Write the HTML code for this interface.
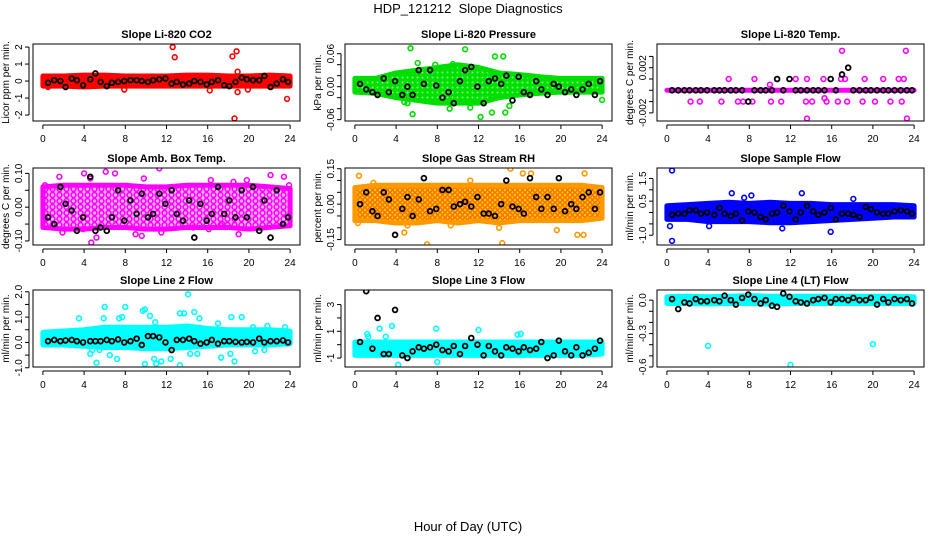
<!DOCTYPE html>
<html><head><meta charset="utf-8"><style>
body{margin:0;background:#fff}
svg{display:block;font-family:"Liberation Sans",sans-serif}
</style></head><body>
<svg id="c" width="936" height="540" viewBox="0 0 936 540">
<defs>
<pattern id="patPink" width="7" height="6" patternUnits="userSpaceOnUse">
<rect width="7" height="6" fill="#ffb0ff"/>
<circle cx="3.5" cy="3" r="2.4" fill="none" stroke="#ff00ff" stroke-width="1.6"/>
</pattern>
<pattern id="patOrange" width="5" height="5" patternUnits="userSpaceOnUse">
<rect width="5" height="5" fill="#ffd000"/>
<circle cx="2.5" cy="2.5" r="1.8" fill="none" stroke="#ff5a00" stroke-width="1.2"/>
</pattern>
<pattern id="patGreen" width="5" height="5" patternUnits="userSpaceOnUse">
<rect width="5" height="5" fill="#00e000"/>
<circle cx="2.5" cy="2.5" r="1" fill="#80ff80"/>
</pattern>
</defs>
<text x="468" y="13" font-size="13" text-anchor="middle" xml:space="preserve">HDP_121212  Slope Diagnostics</text>
<text x="468" y="531" font-size="13" text-anchor="middle">Hour of Day (UTC)</text>
</svg>
<script>
const blackHours=[0.5,1.1,1.7,2.2,2.8,3.3,3.9,4.6,5.1,5.6,6.2,6.7,7.3,7.9,8.5,9.1,9.6,10.2,10.7,11.3,11.9,12.5,13.0,13.6,14.2,14.7,15.3,15.9,16.4,17.0,17.6,18.1,18.7,19.3,19.8,20.4,21.0,21.5,22.1,22.7,23.3,23.8];
const bandHours=[0,2,4,6,8,10,12,14,16,18,20,22,24];
const xTicks=[0,4,8,12,16,20,24];
const titles=["Slope Li-820 CO2","Slope Li-820 Pressure","Slope Li-820 Temp.","Slope Amb. Box Temp.","Slope Gas Stream RH","Slope Sample Flow","Slope Line 2 Flow","Slope Line 3 Flow","Slope Line 4 (LT) Flow"];
const yTitles=["Licor ppm per min.","kPa per min.","degrees C per min.","degrees C per min.","percent per min.","ml/min per min.","ml/min per min.","ml/min per min.","ml/min per min."];
const yLims=[[-2.35,2.18],[-0.0624,0.0776],[-0.00272,0.0041],[-0.112,0.116],[-0.173,0.153],[-1.43,1.96],[-0.97,2.07],[-1.67,4.09],[-0.6,0.091]];
const yTicks=[[-2,-1,0,1,2],[-0.06,-0.04,-0.02,0,0.02,0.04,0.06],[-0.002,-0.001,0,0.001,0.002,0.003],[-0.1,-0.05,0,0.05,0.1],[-0.15,-0.1,-0.05,0,0.05,0.1,0.15],[-1,-0.5,0,0.5,1,1.5],[-1,-0.5,0,0.5,1,1.5,2],[-1,0,1,2,3],[-0.6,-0.5,-0.4,-0.3,-0.2,-0.1,0]];
const yTickLabels=[["-2","-1","0","1","2"],["-0.06","","","0.00","","","0.06"],["-0.002","","","","0.002",""],["-0.10","","0.00","","0.10"],["-0.15","","","0.00","","","0.15"],["-1.0","","","0.5","","1.5"],["-1.0","","0.0","","1.0","","2.0"],["-1","","1","","3"],["-0.6","","","-0.3","","","0.0"]];
const colors=["#ff0000","#00dd00","#ff00ff","#ff00ff","#ff9900","#0000ff","#00ffff","#00ffff","#00ffff"];
const bandFills=["#ff0000","url(#patGreen)","#ff00ff","url(#patPink)","url(#patOrange)","#0000ff","#00ffff","#00ffff","#00ffff"];
const bandLo=[
[-0.3,-0.3,-0.35,-0.3,-0.3,-0.3,-0.3,-0.3,-0.3,-0.3,-0.3,-0.3,-0.3],
[-0.01,-0.012,-0.02,-0.025,-0.03,-0.03,-0.03,-0.02,-0.015,-0.012,-0.01,-0.01,-0.01],
[0,0,0,0,0,0,0,0,0,0,0,0,0],
[-0.06,-0.065,-0.065,-0.06,-0.06,-0.065,-0.065,-0.06,-0.06,-0.06,-0.065,-0.06,-0.055],
[-0.07,-0.07,-0.08,-0.08,-0.07,-0.08,-0.07,-0.08,-0.07,-0.07,-0.07,-0.07,-0.06],
[-0.3,-0.3,-0.4,-0.4,-0.4,-0.45,-0.45,-0.4,-0.35,-0.3,-0.25,-0.2,-0.2],
[-0.1,-0.1,-0.15,-0.2,-0.2,-0.25,-0.25,-0.2,-0.15,-0.1,-0.1,-0.1,-0.05],
[-0.8,-0.8,-0.8,-0.8,-0.8,-0.8,-0.8,-0.8,-0.8,-0.8,-0.8,-0.8,-0.7],
[-0.03,-0.03,-0.035,-0.03,-0.03,-0.035,-0.03,-0.03,-0.03,-0.03,-0.03,-0.03,-0.03]];
const bandHi=[
[0.3,0.3,0.35,0.35,0.3,0.3,0.3,0.35,0.35,0.3,0.3,0.35,0.3],
[0.015,0.015,0.025,0.03,0.035,0.04,0.035,0.025,0.022,0.018,0.015,0.015,0.015],
[0,0,0,0,0,0,0,0,0,0,0,0,0],
[0.06,0.065,0.065,0.065,0.065,0.06,0.06,0.065,0.065,0.065,0.065,0.06,0.055],
[0.07,0.08,0.08,0.08,0.08,0.08,0.08,0.08,0.08,0.08,0.08,0.08,0.07],
[0.3,0.35,0.4,0.45,0.4,0.45,0.4,0.4,0.35,0.35,0.35,0.35,0.3],
[0.4,0.45,0.5,0.6,0.6,0.6,0.6,0.65,0.55,0.5,0.5,0.5,0.45],
[0.2,0.2,0.2,0.2,0.2,0.2,0.2,0.2,0.2,0.2,0.2,0.2,0.2],
[0.03,0.035,0.03,0.035,0.04,0.035,0.035,0.035,0.035,0.035,0.035,0.035,0.03]];
const outX=[
[12.6,12.8,18.4,18.8,18.6,18.9,18.9,23.7,16.2,19.9,7.9,0.5],
[5.4,10.7,13.6,14.4,5.6,9.2,12.2,13.3,14.6,4.8,5.1,7.8,24,11.2,15,6.1,9.5],
[17.0,23.2,13.6,23.3,10.0,15.3,6.0,8.5,12.5,13.6,15.2,16.9,17.3,19.2,21.0,22.5,23.0,2.3,3.2,5.3,6.9,7.4,8.3,10.1,11.1,13.5,14.1,15.5,16.6,17.5,19.0,20.2,21.7,22.8],
[4.0,4.6,6.1,7.0,1.6,9.8,11.3,16.3,18.5,19.8,22.1,23.4,23.9,4.7,5.2,9.0,9.6,11.5,1.9,16.1,19.0,0.1,0.2,3.9,14.6,17.4],
[0.4,0.3,4.8,5.1,7.0,14.3,14.0,15.1,16.3,17.1,19.6,21.6,22.2,22.3,9.3,11.2,1.8],
[0.5,0.5,0.3,6.3,13.1,15.9,7.5,8.2,4.1,11.2,18.1],
[6.0,8.0,9.7,9.9,14.1,14.7,13.3,13.7,5.9,3.5,7.4,7.7,10.4,15.2,18.3,19.3,5.2,5.5,6.5,7.2,9.9,10.8,11.0,11.5,12.4,13.3,14.3,15.0,17.3,18.6,18.2,20.6,21.5,4.6,4.8,10.9,17.0,20.4,21.8,23.5],
[2.4,3.6,7.9,12.0,4.2,8.0,15.8,16.1,1.2,1.3,3.0],
[4.0,12.0,20.0]];
const outY=[
[2.0,1.4,1.45,1.75,-2.2,0.55,-0.65,-1.05,-0.55,-0.5,-0.5,-0.35],
[0.07,0.068,0.055,0.055,-0.05,-0.04,-0.055,-0.047,-0.047,-0.028,-0.03,0.04,-0.024,-0.038,-0.035,0.043,0.041],
[0.0035,0.0035,-0.0025,-0.0025,0.0005,-0.0007,0.001,0.001,0.001,0.001,0.001,0.001,0.001,0.001,0.001,0.001,0.001,-0.001,-0.001,-0.001,-0.001,-0.001,-0.001,-0.001,-0.001,-0.001,-0.001,-0.001,-0.001,-0.001,-0.001,-0.001,-0.001,-0.001],
[0.1,0.085,0.105,0.1,0.09,0.085,0.115,0.08,0.075,0.08,0.095,0.09,0.065,-0.105,-0.09,-0.08,-0.085,-0.075,-0.075,-0.065,-0.08,-0.04,0.065,-0.065,-0.06,-0.05],
[0.12,-0.08,-0.12,-0.09,-0.17,-0.165,-0.1,0.15,0.13,0.13,-0.11,-0.13,-0.13,0.13,-0.09,0.1,0.09],
[1.85,-1.25,-0.6,0.85,0.85,-0.85,0.65,0.75,-0.6,-0.7,0.6],
[1.4,1.4,1.25,1.3,1.9,1.2,1.15,1.15,0.95,0.95,0.95,1.0,1.05,0.95,1.0,1.0,-0.8,-0.3,-0.5,-0.65,-0.85,-0.65,-0.85,-0.75,-0.65,-0.9,-0.45,-0.45,-0.6,-0.75,-0.45,-0.35,-0.3,-0.45,-0.3,0.8,0.75,0.6,0.65,0.6],
[1.2,1.4,1.2,1.1,-1.5,-1.3,0.75,0.8,0.8,0.6,0.6],
[-0.41,-0.58,-0.395]];
const blackY=[
[-0.1,0.05,0,-0.35,0.15,0.05,-0.25,0.1,0.45,-0.05,-0.3,-0.1,-0.05,0,0.05,0.05,0,-0.05,0.05,0.1,0.15,-0.15,-0.05,-0.2,-0.15,0,-0.05,-0.2,-0.05,0.05,-0.25,-0.3,-0.05,0.2,0.1,0.05,0.05,0.3,-0.35,-0.15,0.1,-0.05],
[0.005,-0.005,-0.01,-0.015,0.015,-0.01,0.01,-0.015,0.0,-0.015,0.03,0.005,0.03,0.002,-0.02,-0.01,-0.03,0.01,0.03,0.036,0.0,-0.03,0.01,0.015,0.005,0.02,-0.025,0.018,-0.01,-0.015,0.01,-0.005,-0.015,0.005,0.0,-0.01,-0.005,-0.015,-0.005,0.005,-0.015,0.01],
[0,0,0,0,0,0,0,0,0,0,0,0,0,-0.001,0,0,0,0,0.001,0,0.001,0,0,0,0,0,0,0.001,0,0.0014,0.002,0,0,0,0,0,0,0,0,0,0,0],
[-0.03,-0.05,0.06,0.01,-0.01,-0.07,-0.03,0.09,-0.07,-0.06,-0.07,-0.03,0.05,-0.04,0.02,-0.02,0.04,-0.03,-0.02,0.04,0.01,0.05,-0.02,-0.04,0.02,-0.09,0.01,-0.04,-0.02,0.06,-0.02,0.02,-0.03,0.05,-0.03,0.06,-0.07,0.02,-0.09,0.05,-0.05,-0.03],
[0.0,0.05,-0.03,-0.05,0.05,0.02,-0.13,-0.02,0.03,-0.05,0.02,0.11,-0.03,-0.02,0.06,0.06,-0.01,0.0,0.01,-0.01,0.03,-0.04,-0.04,-0.05,0.0,0.1,-0.01,-0.02,-0.04,0.11,0.03,-0.02,0.03,-0.02,0.11,-0.03,0.0,-0.02,0.03,0.05,-0.02,0.05],
[-0.1,-0.05,-0.05,0.1,0.1,-0.05,0.0,-0.1,0.2,-0.05,-0.15,-0.05,-0.35,0.05,0.0,-0.2,-0.3,-0.05,0.0,0.3,0.05,-0.3,0.0,0.3,0.05,-0.1,0.0,0.2,-0.3,-0.05,-0.05,-0.1,-0.2,0.25,0.15,0.0,-0.05,-0.05,0.05,0.1,0.05,-0.05],
[0.05,0.1,0.05,0.08,0.1,0.05,0.0,0.05,0.05,0.05,0.1,0.05,0.12,0.0,0.05,0.15,-0.1,0.25,0.25,0.2,0.0,-0.3,0.1,0.1,0.15,0.05,-0.05,0.0,0.1,-0.05,0.05,0.05,0.02,0.0,0.02,0.0,0.15,0.0,0.05,0.05,0.08,0.0],
[0.2,4.0,-0.3,2.0,-0.7,-0.7,2.6,-0.8,-1.0,-0.5,-0.2,-0.3,-0.2,0.0,-0.4,-0.5,-0.1,-0.7,-0.1,0.5,0.0,-0.8,-0.1,-0.5,-0.8,-0.2,-0.3,-0.5,-0.2,-0.4,-0.3,0.2,-1.0,-0.8,0.3,-0.5,-0.8,-0.2,-0.8,-0.6,-0.3,0.3],
[0.01,-0.08,-0.02,-0.03,0.01,-0.01,-0.01,0.0,-0.01,0.04,0.0,-0.04,0.02,0.05,0.01,-0.03,0.0,-0.05,-0.06,0.06,0.03,-0.01,-0.02,-0.03,0.0,0.01,0.02,-0.02,0.01,0.01,0.0,0.02,0.0,0.0,0.02,-0.04,0.01,-0.02,0.01,0.0,0.01,-0.03]];

const NS="http://www.w3.org/2000/svg";
const svg=document.getElementById('c');
const colL=[33,345,657], rowT=[44,168,290], W=267, H=77;
function mk(tag,attrs,parent){const e=document.createElementNS(NS,tag);for(const k in attrs)e.setAttribute(k,attrs[k]);(parent||svg).appendChild(e);return e;}
for(let p=0;p<9;p++){
  const L=colL[p%3], T=rowT[Math.floor(p/3)], B=T+H, R=L+W;
  const [ymin,ymax]=yLims[p];
  const xs=v=>L+(v+0.96)/25.92*W;
  const ys=v=>B-(v-ymin)/(ymax-ymin)*H;
  const g=mk('g',{});
  
  
  const cp=mk('clipPath',{id:'cp'+p},g); mk('rect',{x:L,y:T,width:W,height:H},cp);
  const t=mk('text',{x:(L+R)/2,y:T-6,'font-size':11,'font-weight':'bold','text-anchor':'middle'},g);
  t.textContent=titles[p];
  
  
  const yt=mk('text',{transform:`translate(${L-24},${(T+B)/2}) rotate(-90)`,'font-size':10,'text-anchor':'middle'},g);
  yt.textContent=yTitles[p];
  
  
  mk('line',{x1:xs(0),x2:xs(24),y1:B+4,y2:B+4,stroke:'#000','stroke-width':1},g);
  xTicks.forEach(v=>{mk('line',{x1:xs(v),x2:xs(v),y1:B+4,y2:B+8,stroke:'#000'},g);
    const l=mk('text',{x:xs(v),y:B+21,'font-size':10,'text-anchor':'middle'},g);l.textContent=v;
    
    });
  const yt0=yTicks[p];
  mk('line',{x1:L-4,x2:L-4,y1:ys(yt0[0]),y2:ys(yt0[yt0.length-1]),stroke:'#000'},g);
  yt0.forEach((v,i)=>{mk('line',{x1:L-8,x2:L-4,y1:ys(v),y2:ys(v),stroke:'#000'},g);
    if(yTickLabels[p][i]){const l=mk('text',{transform:`translate(${L-11},${ys(v)}) rotate(-90)`,'font-size':10,'text-anchor':'middle'},g);l.textContent=yTickLabels[p][i];
    
    }});
  const pg=mk('g',{'clip-path':`url(#cp${p})`},g);
  let pts=bandHours.map((h,i)=>xs(h)+','+ys(bandHi[p][i]));
  pts=pts.concat(bandHours.slice().reverse().map((h,j)=>xs(h)+','+ys(bandLo[p][bandHours.length-1-j])));
  const band=mk('polygon',{points:pts.join(' '),fill:bandFills[p],stroke:colors[p],'stroke-width':5,'stroke-linejoin':'round'},pg);
  
  
  outX[p].forEach((x,i)=>{const c=mk('circle',{cx:xs(x),cy:ys(outY[p][i]),r:2.4,fill:'none',stroke:colors[p],'stroke-width':1.6},pg);
    
    });
  blackHours.forEach((x,i)=>{const c=mk('circle',{cx:xs(x),cy:ys(blackY[p][i]),r:2.4,fill:'none',stroke:'#000','stroke-width':1.8},pg);
    
    });
  mk('rect',{x:L,y:T,width:W,height:H,fill:'none',stroke:'#000','stroke-width':1},g);
}
</script>
</body></html>
